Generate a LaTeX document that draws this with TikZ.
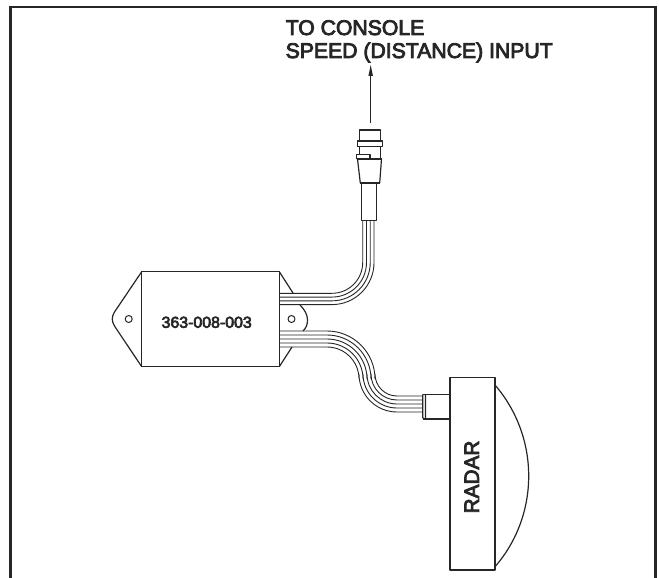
\documentclass[tikz,border=0pt]{standalone}
\usepackage{fontspec}
\setmainfont{Liberation Sans}
\newfontfamily\lblfont[FakeBold=4]{Liberation Sans}
\begin{document}
\begin{tikzpicture}[x=1pt,y=-1pt,
  part/.style={draw=black!85,line width=1.2pt,line join=round},
  wire/.style={draw=black!85,line width=0.9pt},
  lbl/.style={inner sep=0pt,text=black!85,font=\lblfont\fontsize{21.2}{23}\selectfont}]
\useasboundingbox (0,0) rectangle (659,578);
% frame
\draw[draw=black!85,line width=2.4pt] (10.5,578) -- (10.5,7) -- (655.5,7) -- (655.5,578);
% labels
\node[lbl,anchor=base west] (t1) at (285.5,35) {TO CONSOLE};
\node[lbl,anchor=base west] (t2) at (285.5,58) {SPEED (DISTANCE) INPUT};
% arrow
\coordinate (arrowtail) at (370.7,123);
\coordinate (arrowtip) at (370.7,65);
\draw[draw=black!85,line width=1.1pt] (arrowtail) -- (370.7,75);
\fill[black!85] (arrowtip) -- (373,76) -- (368.4,76) -- cycle;
% console connector
\draw[part,fill=white] (359.3,130) rectangle (380.7,141);
\draw[part,fill=white] (357.3,141) rectangle (382.7,146.7);
\draw[part] (359.3,146.7) -- (359.3,154.3) (380.7,146.7) -- (380.7,159);
\draw[part,fill=white] (356.7,159) -- (356.7,154.3) -- (370,154.3) -- (370,159);
\draw[part] (356.7,159) -- (381.5,159);
\draw[part] (357.5,159) -- (360.3,183) (381.5,159) -- (379.7,183);
\draw[draw=black!85,line width=2.2pt] (360.3,183.3) -- (379.7,183.3);
\draw[part] (361.3,183) -- (361.3,220.7) -- (376.7,220.7) -- (376.7,183);
% upper wires
\foreach \i in {0,1,2,3}{
  \pgfmathsetmacro{\r}{30.7+3.77*\i}
  \pgfmathsetmacro{\yy}{262.6+\r}
  \pgfmathsetmacro{\xx}{332+\r}
  \draw[wire] (\xx,220.7) -- (\xx,262.6)
    .. controls (\xx,{262.6+0.5523*\r}) and ({332+0.5523*\r},\yy) .. (332,\yy)
    -- (279.3,\yy);
}
% lower wires
\foreach \i in {0,1,2,3,4}{
  \pgfmathsetmacro{\ra}{48-4*\i}
  \pgfmathsetmacro{\rb}{22+4*\i}
  \pgfmathsetmacro{\ya}{379-\ra}
  \pgfmathsetmacro{\xm}{327+\ra}
  \pgfmathsetmacro{\yb}{374+\rb}
  \draw[wire] (279.3,\ya) -- (327,\ya)
    .. controls ({327+0.5523*\ra},\ya) and (\xm,{379-0.5523*\ra}) .. (\xm,379)
    -- (\xm,374)
    .. controls (\xm,{374+0.5523*\rb}) and ({397-0.5523*\rb},\yb) .. (397,\yb)
    -- (422.7,\yb);
}
% module box
\draw[part] (279.3,271.7) -- (293,293);
\draw[part] (279.3,366.7) -- (292,347);
\draw[part] (300,305) .. controls (305,310) and (307.5,315) .. (307.5,320)
  .. controls (307.5,325) and (306,328) .. (303,331);
\draw[part] (141.7,271.7) -- (114.5,312) .. controls (111.5,317) and (111.5,321) .. (114.5,326) -- (141.7,366.7);
\draw[part] (141.7,271.7) rectangle (279.3,366.7);
\draw[part,line width=1pt] (128.7,319) circle (3.5);
\draw[part,line width=1pt] (291.5,319) circle (3.5);
\node[inner sep=0pt,text=black!85,font=\lblfont\fontsize{15.9}{18}\selectfont] (partno) at (206.7,322.3) {363-008-003};
% radar
\draw[part] (422.7,394.3) -- (450,394.3) (422.7,419) -- (450,419);
\draw[part] (422.7,394.3) -- (422.7,417.5) -- (424,419) (425.5,394.3) -- (425.5,419);
\draw[part] (450,377.3) rectangle (495,570);
\draw[part] (495,385) .. controls (516.8,410.3) and (528.7,442.6) .. (528.7,476)
  .. controls (528.7,509.4) and (516.8,541.7) .. (495,566.7);
\node[inner sep=0pt,text=black!85,rotate=90,font=\lblfont\fontsize{20.8}{23}\selectfont] (radar) at (471.7,477) {RADAR};
\end{tikzpicture}
\end{document}
